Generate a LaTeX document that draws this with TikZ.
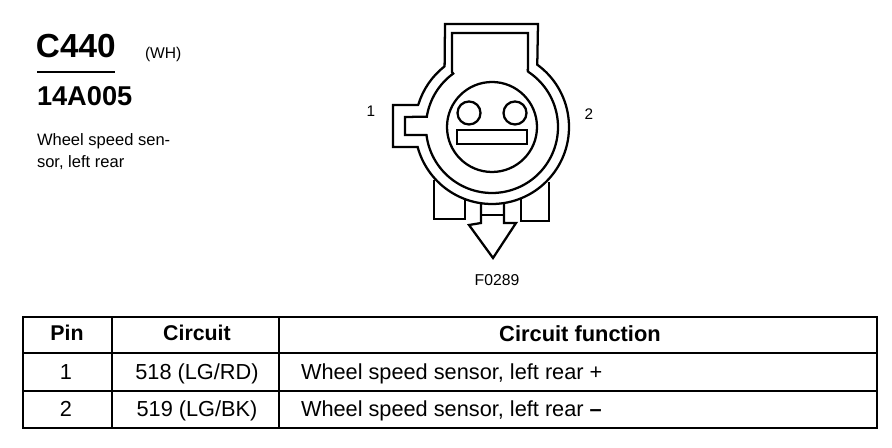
\documentclass[tikz,border=0pt]{standalone}
\usepackage{fontspec}
\setmainfont{Liberation Sans}
\usetikzlibrary{calc}
\tikzset{
  ln/.style={line width=1.7pt,line join=miter,black},
  txt/.style={inner sep=0pt,outer sep=0pt,text=black,font=\fontsize{#1}{#1}\selectfont},
  lefttxt/.style={txt=#1,anchor=base west},
  midtxt/.style={txt=#1,anchor=base},
}
\begin{document}
\begin{tikzpicture}[x=0.75pt,y=0.75pt]
\useasboundingbox (0,0) rectangle (892,448);
\fill[white] (0,0) rectangle (892,448);
\coordinate (c) at (492,321);
% connector body
\draw[ln] (445,424) -- (538,424) -- ($(c)+(54:77)$) arc[start angle=54,end angle=-165,radius=77]
  -- (393,301) -- (393,343) -- (418,343) -- ($(c)+(163:77)$) arc[start angle=163,end angle=128,radius=77] -- (445,424) -- cycle;
\draw[ln] (452,415) -- (528,415) -- (528,376) -- ($(c)+(57:66)$) arc[start angle=57,end angle=-173,radius=66]
  -- (405,313) -- (405,331) -- ($(c)+(171:66)$) arc[start angle=171,end angle=126,radius=66] -- (452,376) -- cycle;
\draw[ln] (c) circle[radius=45];
\draw[ln] (469,335) circle[radius=11.5];
\draw[ln] (515,335) circle[radius=11.5];
\draw[ln] (457,318) rectangle (527,304);
% lower latches
\draw[ln] (434,268) -- (434,229) -- (465,229) -- (465,250);
\draw[ln] (549,266) -- (549,227) -- (521,227) -- (521,250);
% view arrow
\draw[ln] (481,245) -- (481,225) -- (469,223) -- (493,190) -- (516,225) -- (504,225) -- (504,245);
\draw[ln] (481,233) -- (504,233);
% labels
\node[midtxt=11.5] (p1) at (371,331) {1};
\node[midtxt=11.5] (p2) at (589,328) {2};
\node[midtxt=11.8] (fig) at (497,162) {F0289};
\node[lefttxt=25,font=\fontsize{25}{25}\selectfont\bfseries] (title) at (36,390) {C440};
\node[lefttxt=11.7] (wh) at (145,389) {(WH)};
\draw[line width=1.2pt] (37,376) -- (115,376);
\node[lefttxt=20.4,font=\fontsize{20.4}{20.4}\selectfont\bfseries] (part) at (37,342) {14A005};
\node[lefttxt=12.4] (d1) at (37,302) {Wheel speed sen-};
\node[lefttxt=12.4] (d2) at (37,280) {sor, left rear};
% table
\draw[ln] (23,131) rectangle (877,20);
\draw[ln] (23,95) -- (877,95);
\draw[ln] (23,57) -- (877,57);
\draw[ln] (112,131) -- (112,20);
\draw[ln] (279,131) -- (279,20);
\node[midtxt=16,font=\fontsize{16}{16}\selectfont\bfseries] (h1) at (67,107) {Pin};
\node[midtxt=16,font=\fontsize{16}{16}\selectfont\bfseries] (h2) at (197,107) {Circuit};
\node[midtxt=16.4,font=\fontsize{16.4}{16.4}\selectfont\bfseries] (h3) at (580,106) {Circuit function};
\node[midtxt=16.3] (r1a) at (66,68) {1};
\node[midtxt=16.3] (r1b) at (197,68) {518 (LG/RD)};
\node[lefttxt=16.3] (r1c) at (301,68) {Wheel speed sensor, left rear +};
\node[midtxt=16.3] (r2a) at (66,31) {2};
\node[midtxt=16.3] (r2b) at (197,31) {519 (LG/BK)};
\node[lefttxt=16.3] (r2c) at (301,31) {Wheel speed sensor, left rear \textbf{–}};
\end{tikzpicture}
\end{document}
